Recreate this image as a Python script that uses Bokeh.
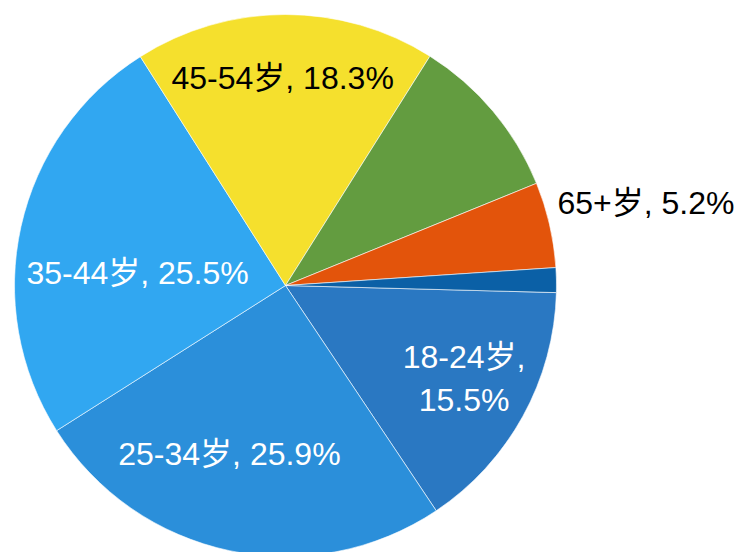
import math
from bokeh.plotting import figure
from bokeh.models import ColumnDataSource, Range1d
from bokeh.core.properties import value
from bokeh.embed import file_html
from bokeh.resources import INLINE

# ---- data (clockwise order, starting just below 3 o'clock) ----
categories = ["18-24岁", "25-34岁", "35-44岁", "45-54岁", "55-64岁", "65+岁", "18岁以下"]
percent = [15.5, 25.9, 25.5, 18.3, 10.1, 5.2, 1.5]
show_label = [True, True, True, True, False, True, False]

# ---- styles ----
colors = ["#2A78C2", "#2B8FDA", "#31A7F1", "#F5E02D", "#639C40", "#E3540B", "#0B60A6"]
label_colors = ["white", "white", "white", "black", "black", "black", "white"]
label_r = [0.742, 0.655, 0.548, 0.764, 0.6, 1.049, 0.6]
label_dtheta = [-1.45, 6.5, -7.6, -0.7, 0.0, -4.0, 0.0]
label_align = ["center", "center", "center", "center", "center", "left", "center"]
label_wrap = [True, False, False, False, False, False, False]

W, H = 738, 552
CX, CY, R = 285.0, -285.0, 271.0
START_CW = 91.5  # degrees clockwise from 12 o'clock where the first slice starts
FONT = "'Liberation Sans', Arial, 'Noto Sans CJK SC', sans-serif"

total = sum(percent)
starts, ends = [], []
cum = 0.0
mids = []
for v in percent:
    span = v / total * 360.0
    a0 = START_CW + cum
    a1 = a0 + span
    # convert clockwise-from-top to math angles (ccw from +x)
    starts.append(math.radians(90.0 - a1))
    ends.append(math.radians(90.0 - a0))
    mids.append((a0 + a1) / 2.0)
    cum += span

wedges = ColumnDataSource(dict(cat=categories, start=starts, end=ends, color=colors))

p = figure(width=W, height=H, output_backend="svg", toolbar_location=None,
           x_range=Range1d(0, W), y_range=Range1d(-H, 0),
           min_border=0, outline_line_color=None)
p.axis.visible = False
p.grid.visible = False
p.background_fill_color = "white"
p.border_fill_color = "white"

p.wedge(x=CX, y=CY, radius=R, start_angle="start", end_angle="end",
        fill_color="color", line_color="white", line_width=0.6, source=wedges)

lx, ly, lt, lc, la = [], [], [], [], []
LINE_GAP = 43.0
for i, cat in enumerate(categories):
    if not show_label[i]:
        continue
    th = math.radians(mids[i] + label_dtheta[i])
    x = CX + label_r[i] * R * math.sin(th)
    y = CY + label_r[i] * R * math.cos(th)
    if label_wrap[i]:
        lines = [f"{cat},", f"{percent[i]}%"]
        for k, t in enumerate(lines):
            lx.append(x)
            ly.append(y + LINE_GAP * ((len(lines) - 1) / 2.0 - k))
            lt.append(t)
            lc.append(label_colors[i])
            la.append(label_align[i])
    else:
        lx.append(x)
        ly.append(y)
        lt.append(f"{cat}, {percent[i]}%")
        lc.append(label_colors[i])
        la.append(label_align[i])

labels = ColumnDataSource(dict(x=lx, y=ly, text=lt, color=lc, align=la))
p.text(x="x", y="y", text="text", text_color="color", text_align="align",
       text_baseline="middle", text_font=value(FONT), text_font_size="32px",
       source=labels)

open("out.html", "w").write(file_html(p, INLINE))
